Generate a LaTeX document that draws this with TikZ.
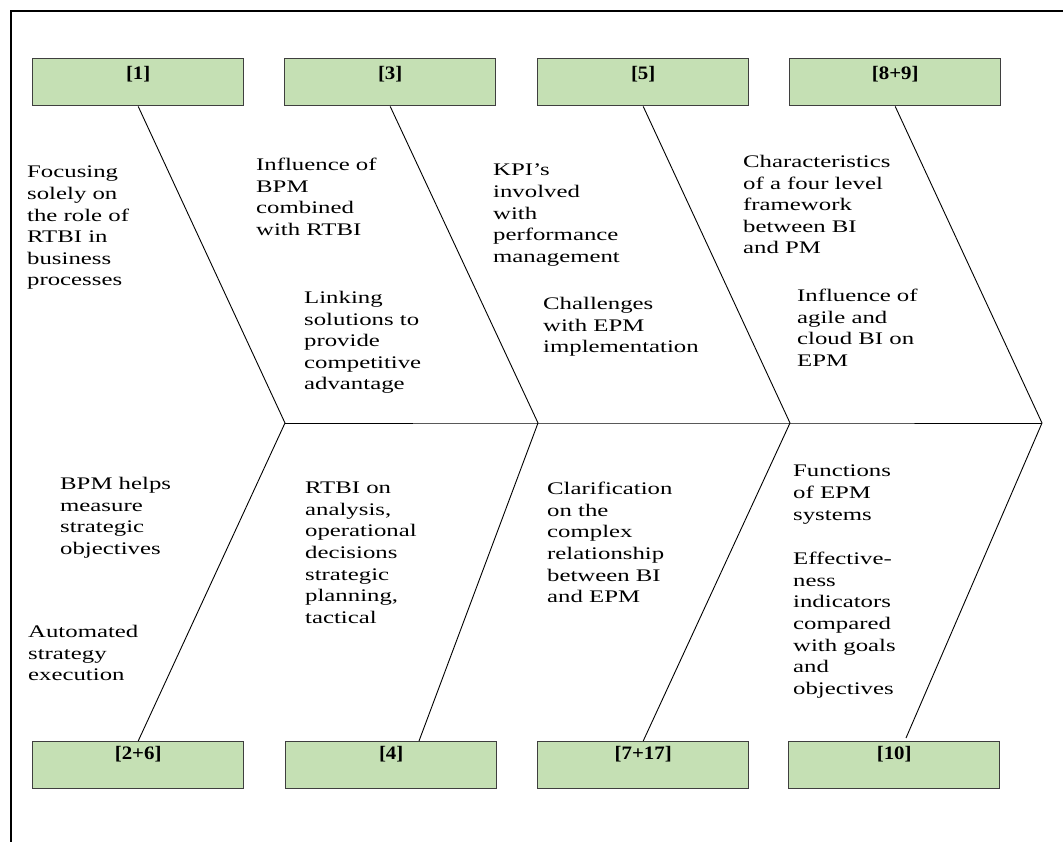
\documentclass[tikz,border=0pt]{standalone}
\usepackage{fontspec}
\newfontfamily\bodyfont{Liberation Serif}[FakeStretch=1.4]
\newfontfamily\refsfont{Liberation Serif}[FakeStretch=1.1]
\usetikzlibrary{calc}
\definecolor{boxgreen}{HTML}{C5E0B4}
\definecolor{boxedge}{HTML}{3F3F3F}

\begin{document}
\begin{tikzpicture}[x=1pt,y=-1pt,
  refbox/.style={draw=boxedge, line width=1.4pt, fill=boxgreen,
    minimum width=211pt, minimum height=47pt, inner sep=0pt, anchor=north west,
    font=\refsfont\bfseries\fontsize{19}{22}\selectfont, text height=13.1pt},
  topref/.style={refbox, text depth=17.9pt},
  botref/.style={refbox, text depth=23.9pt},
  note/.style={anchor=north west, inner sep=0pt, align=left,
    font=\bodyfont\fontsize{17.7}{21.6}\selectfont},
  bone/.style={line width=0.9pt, black},
  frame/.style={line width=2pt, black}]

\useasboundingbox (0,0) rectangle (1063,841);
\clip (0,0) rectangle (1063,841);

% outer frame (only the top and left sides fall inside the page)
\draw[frame] (11,860) -- (11,11) -- (1080,11);

% reference boxes
\node[topref] (t1)  at (32,58)  {[1]};
\node[topref] (t3)  at (284,58) {[3]};
\node[topref] (t5)  at (537,58) {[5]};
\node[topref] (t89) at (789,58) {[8+9]};

\node[botref] (b26)  at (32,741)  {[2+6]};
\node[botref] (b4)   at (285,741) {[4]};
\node[botref] (b717) at (537,741) {[7+17]};
\node[botref] (b10)  at (788,741) {[10]};

% spine joints
\coordinate (J1) at (285,423);
\coordinate (J2) at (538,423);
\coordinate (J3) at (790,423);
\coordinate (J4) at (1042,423);
\coordinate (e4)  at ($(b4.north west)+(134,0)$);
\coordinate (e10) at ($(b10.north west)+(118,-3)$);

% spine
\draw[bone] (J1) -- (J2) -- (J3) -- (J4);

% upper bones
\draw[bone] (t1.south)  -- (J1);
\draw[bone] (t3.south)  -- (J2);
\draw[bone] (t5.south)  -- (J3);
\draw[bone] (t89.south) -- (J4);

% lower bones
\draw[bone] (J1) -- (b26.north);
\draw[bone] (J2) -- (e4);
\draw[bone] (J3) -- (b717.north);
\draw[bone] (J4) -- (e10);

% upper notes
\node[note] (n1) at (27,166)  {Focusing\\solely on\\the role of\\RTBI in\\business\\processes};
\node[note] (n2) at (256,158) {Influence of\\BPM\\combined\\with RTBI};
\node[note] (n3) at (304,291) {Linking\\solutions to\\provide\\competitive\\advantage};
\node[note] (n4) at (493,164) {KPI’s\\involved\\with\\performance\\management};
\node[note] (n5) at (543,297) {Challenges\\with EPM\\implementation};
\node[note] (n6) at (743,155) {Characteristics\\of a four level\\framework\\between BI\\and PM};
\node[note] (n7) at (797,289) {Influence of\\agile and\\cloud BI on\\EPM};

% lower notes
\node[note] (n8)  at (60,477)  {BPM helps\\measure\\strategic\\objectives};
\node[note] (n9)  at (28,625)  {Automated\\strategy\\execution};
\node[note] (n10) at (305,482) {RTBI on\\analysis,\\operational\\decisions\\strategic\\planning,\\tactical};
\node[note] (n11) at (547,482) {Clarification\\on the\\complex\\relationship\\between BI\\and EPM};
\node[note] (n12) at (793,465) {Functions\\of EPM\\systems};
\node[note] (n13) at (793,552) {Effective-\\ness\\indicators\\compared\\with goals\\and\\objectives};
\end{tikzpicture}
\end{document}
